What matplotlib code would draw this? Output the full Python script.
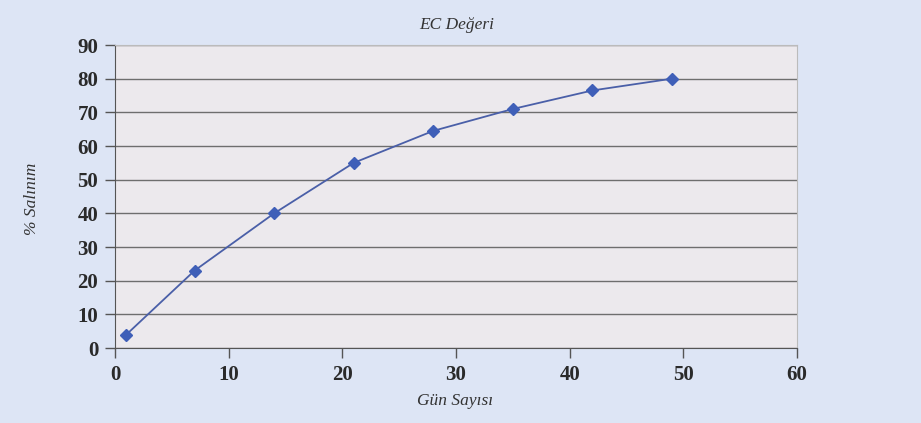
import matplotlib.pyplot as plt

# veri
gun = [1, 7, 14, 21, 28, 35, 42, 49]
salinim = [4, 23, 40, 55, 64.5, 71, 76.5, 80]
x_ticks = [0, 10, 20, 30, 40, 50, 60]
y_ticks = [0, 10, 20, 30, 40, 50, 60, 70, 80, 90]

plt.rcParams['font.family'] = ['Liberation Serif', 'DejaVu Serif']

fig = plt.figure(figsize=(9.21, 4.23), dpi=100, facecolor='#dde5f5')
ax = fig.add_axes([0.1249, 0.1773, 0.7405, 0.7163])
ax.set_facecolor('#ece9ed')

ax.plot(gun, salinim, color='#4a5fa8', linewidth=1.3, marker='D',
        markersize=6.5, markerfacecolor='#3f5fb8', markeredgecolor='#3f5fb8', zorder=3)

ax.set_xlim(0, 60)
ax.set_ylim(0, 90)
ax.set_xticks(x_ticks)
ax.set_yticks(y_ticks)
ax.tick_params(axis='both', direction='out', length=7, width=1, color='#555555',
               labelsize=15, pad=5)
for lbl in ax.get_xticklabels() + ax.get_yticklabels():
    lbl.set_fontweight('bold')
    lbl.set_color('#2a2a2a')

ax.yaxis.grid(True, color='#6e6e6e', linewidth=1.0)
ax.set_axisbelow(True)

ax.spines['left'].set_color('#555555')
ax.spines['bottom'].set_color('#555555')
ax.spines['top'].set_color('#bbbbbb')
ax.spines['right'].set_color('#bbbbbb')

fig.text(0.496, 0.94, 'EC Değeri', ha='center', va='center', fontsize=12.5,
         style='italic', color='#333333')
fig.text(0.494, 0.053, 'Gün Sayısı', ha='center', va='center', fontsize=12.5,
         style='italic', color='#333333')
fig.text(0.035, 0.53, '% Salınım', ha='center', va='center', fontsize=12.5,
         style='italic', color='#333333', rotation=90)

fig.savefig('out.png', dpi=100, facecolor=fig.get_facecolor())
